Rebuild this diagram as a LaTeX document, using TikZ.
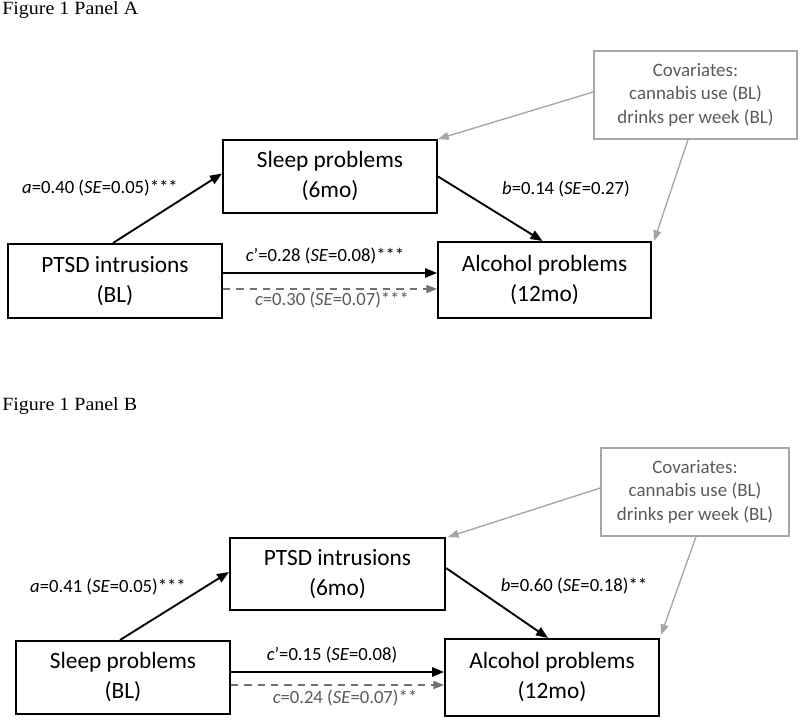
\documentclass[tikz,border=0pt]{standalone}
\usepackage{fontspec}
\setmainfont{Carlito}
\newfontfamily\timesf{Liberation Serif}
\usetikzlibrary{arrows.meta,calc}
\definecolor{covgray}{HTML}{A6A6A6}
\definecolor{dashgray}{HTML}{707070}
\definecolor{labgray}{HTML}{5A5A5A}
\tikzset{
  varbox/.style={draw=black,line width=1.5pt,align=center,inner sep=0pt,
    font=\fontsize{17.5}{22.5}\selectfont},
  covbox/.style={draw=covgray,line width=1.1pt,align=center,inner sep=0pt,
    text=labgray,font=\fontsize{14.2}{17.3}\selectfont},
  patharrow/.style={line width=1.4pt,-{Triangle[length=9pt,width=7pt]}},
  totalarrow/.style={line width=1.2pt,dashgray,dash pattern=on 5.5pt off 4.5pt,
    -{Triangle[length=8pt,width=6pt]}},
  covarrow/.style={line width=1pt,covgray,-{Triangle[length=8pt,width=6pt]}},
  coeff/.style={inner sep=0pt,font=\fontsize{14}{16}\selectfont},
  coeffgray/.style={coeff,text=labgray},
  paneltitle/.style={inner sep=0pt,anchor=base west,xscale=1.07,font=\timesf\fontsize{14}{17}\selectfont}
}
\begin{document}
\begin{tikzpicture}[x=0.75pt,y=-0.75pt]
\useasboundingbox (0,0) rectangle (800,720);

% ---------- Panel A ----------
\node[paneltitle] (titleA) at (2,15) {Figure 1 Panel A};
\node[varbox,minimum width=214*0.75pt,minimum height=73*0.75pt] (sleepA) at (330,176.5) {Sleep problems\\(6mo)};
\node[varbox,minimum width=214*0.75pt,minimum height=74*0.75pt] (ptsdA) at (115,281) {PTSD intrusions\\(BL)};
\node[varbox,minimum width=213*0.75pt,minimum height=76*0.75pt] (alcA) at (544.5,280) {Alcohol problems\\(12mo)};
\node[covbox,minimum width=203*0.75pt,minimum height=88*0.75pt] (covA) at (695.5,95) {Covariates:\\cannabis use (BL)\\drinks per week (BL)};

\draw[patharrow] ($(ptsdA.north)+(-2,0)$) -- ($(sleepA.west)+(0,-3)$);
\draw[patharrow] (sleepA.east) -- ($(alcA.north)+(-2,0)$);
\draw[patharrow] ($(ptsdA.east)+(0,-8)$) -- ($(alcA.west)+(0,-7)$);
\draw[totalarrow] ($(ptsdA.east)+(0,8)$) -- ($(alcA.west)+(0,9)$);
\draw[covarrow] ($(covA.west)+(0,-3)$) -- (sleepA.north east);
\draw[covarrow] ($(covA.south)+(-7.5,0)$) -- ($(alcA.north east)+(2,0)$);

\node[coeff] (aA) at (100,188) {\textit{a}=0.40 (\textit{SE}=0.05)***};
\node[coeff] (bA) at (566,189) {\textit{b}=0.14 (\textit{SE}=0.27)};
\node[coeff] (cpA) at (325,256) {\textit{c}'=0.28 (\textit{SE}=0.08)***};
\node[coeffgray] (cA) at (332,300) {\textit{c}=0.30 (\textit{SE}=0.07)***};

% ---------- Panel B ----------
\node[paneltitle] (titleB) at (2,411) {Figure 1 Panel B};
\node[varbox,minimum width=215*0.75pt,minimum height=72*0.75pt] (ptsdB) at (337.5,574) {PTSD intrusions\\(6mo)};
\node[varbox,minimum width=214*0.75pt,minimum height=73*0.75pt] (sleepB) at (123,677.5) {Sleep problems\\(BL)};
\node[varbox,minimum width=214*0.75pt,minimum height=77*0.75pt] (alcB) at (552,677.5) {Alcohol problems\\(12mo)};
\node[covbox,minimum width=188*0.75pt,minimum height=88*0.75pt] (covB) at (695,492) {Covariates:\\cannabis use (BL)\\drinks per week (BL)};

\draw[patharrow] ($(sleepB.north)+(-3,0)$) -- ($(ptsdB.west)+(0,-2)$);
\draw[patharrow] ($(ptsdB.east)+(0,-6)$) -- ($(alcB.north)+(-4,0)$);
\draw[patharrow] ($(sleepB.east)+(0,-5.5)$) -- ($(alcB.west)+(0,-5.5)$);
\draw[totalarrow] ($(sleepB.east)+(0,7.5)$) -- ($(alcB.west)+(0,7.5)$);
\draw[covarrow] ($(covB.west)+(0,-4)$) -- ($(ptsdB.north east)+(2,0)$);
\draw[covarrow] ($(covB.south)+(1,0)$) -- ($(alcB.north east)+(1,-3)$);

\node[coeff] (aB) at (108,587) {\textit{a}=0.41 (\textit{SE}=0.05)***};
\node[coeff] (bB) at (574,586) {\textit{b}=0.60 (\textit{SE}=0.18)**};
\node[coeff] (cpB) at (332,655) {\textit{c}'=0.15 (\textit{SE}=0.08)};
\node[coeffgray] (cB) at (345,698) {\textit{c}=0.24 (\textit{SE}=0.07)**};
\end{tikzpicture}
\end{document}
